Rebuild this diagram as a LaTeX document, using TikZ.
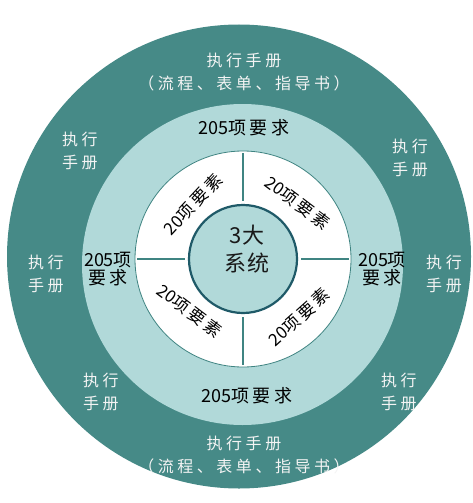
\documentclass[tikz,border=0pt]{standalone}
\usepackage{fontspec}
\setmainfont{Noto Sans CJK SC}
\usetikzlibrary{positioning}

\definecolor{ringdark}{HTML}{468A87}
\definecolor{ringlight}{HTML}{B1D9D9}
\definecolor{divline}{HTML}{3F8482}
\definecolor{coreline}{HTML}{1F5A68}
\definecolor{handtext}{HTML}{F4F4F4}

% spaced CJK, digits kept tight
\newcommand{\wide}[1]{{\addfontfeature{LetterSpace=18}#1}}

\begin{document}
\begin{tikzpicture}[
  x=1pt, y=-1pt,
  disc/.style={circle, inner sep=0pt},
  hand/.style={text=handtext, align=center, inner sep=0pt,
    font=\fontsize{16}{23}\selectfont\addfontfeatures{LetterSpace=22}},
  req/.style={text=black, align=center, inner sep=0pt,
    font=\fontsize{18}{18}\selectfont},
  elem/.style={text=black, inner sep=0pt,
    font=\fontsize{17}{17}\selectfont},
  divider/.style={draw=divline, line width=1.8pt}
]
\useasboundingbox (0,0) rectangle (472,503);

% rings
\node[disc, fill=ringdark, minimum size=464pt] (outer) at (239,256.5) {};
\node[disc, fill=ringlight, minimum size=321pt] (mid) at (242.5,264.5) {};
\node[disc, fill=white, draw=divline, line width=0.8pt, minimum size=216pt] (elems) at (243,259) {};
\node[disc, fill=ringlight, draw=coreline, line width=2.2pt, minimum size=108pt] (core) at (243,259) {};

\draw[divider, shorten >=2pt, shorten <=3pt] (core.north) -- (elems.north);
\draw[divider, shorten >=2pt, shorten <=3pt] (core.south) -- (elems.south);
\draw[divider, shorten >=2pt, shorten <=3pt] (core.west) -- (elems.west);
\draw[divider, shorten >=2pt, shorten <=3pt] (core.east) -- (elems.east);

% centre
\node[align=center, text=black!90, inner sep=0pt,
  font=\fontsize{22}{28}\selectfont\addfontfeatures{LetterSpace=6}] (sys) at (247,249) {3大\\系统};

% elements
\node[elem, rotate=47] (e1) at (193,204) {20\wide{项要素}};
\node[elem, rotate=-37] (e2) at (298,203) {20\wide{项要素}};
\node[elem, rotate=-37] (e3) at (190,311) {20\wide{项要素}};
\node[elem, rotate=42] (e4) at (299,317) {20\wide{项要素}};

% requirements
\node[req] (rtop) at (244,128) {205\wide{项要求}};
\node[req] (rbot) at (247,396) {205\wide{项要求}};
\node[req] (rleft) at (108,269) {205项\\\wide{要求}};
\node[req] (rright) at (382,269) {205项\\\wide{要求}};

% manuals
\node[hand] (htop) at (244,72) {执行手册\\（流程、表单、指导书）};
\node[hand] (hbot) at (244,455) {执行手册\\（流程、表单、指导书）};
\node[hand] (hul) at (80,151) {执行\\手册};
\node[hand] (hur) at (410,158) {执行\\手册};
\node[hand] (hl) at (46,274) {执行\\手册};
\node[hand] (hr) at (444,274) {执行\\手册};
\node[hand] (hll) at (101,392) {执行\\手册};
\node[hand] (hlr) at (399,392) {执行\\手册};
\end{tikzpicture}
\end{document}
